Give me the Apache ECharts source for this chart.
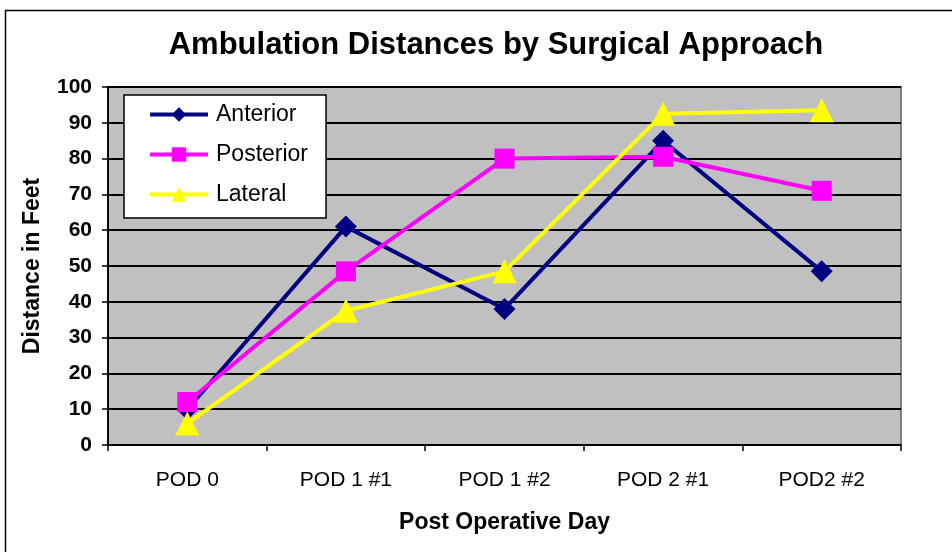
<!DOCTYPE html>
<html><head><meta charset="utf-8">
<script src="https://cdn.jsdelivr.net/npm/echarts@6/dist/echarts.min.js"></script>
<style>html,body{margin:0;padding:0;background:#fff}#c{width:952px;height:552px}</style>
</head><body><div id="c"></div>
<script>
const categories = ['POD 0', 'POD 1 #1', 'POD 1 #2', 'POD 2 #1', 'POD2 #2'];
const anterior = [10, 61, 38, 85, 48.5];
const posterior = [12, 48.5, 80, 80.5, 71];
const lateral = [6, 37.5, 48.5, 92.5, 93.5];
const yTicks = [0, 10, 20, 30, 40, 50, 60, 70, 80, 90, 100];

const FONT = 'Liberation Sans, Arial, sans-serif';
const chart = echarts.init(document.getElementById('c'), null, {renderer: 'canvas'});
const G = {left: 108, top: 87, width: 793, height: 358};
function mkSeries(name, data, color, symbol, size) {
  return {
    name, type: 'line', data, symbol, symbolSize: size,
    lineStyle: {color, width: 4}, itemStyle: {color},
    z: 3
  };
}
chart.setOption({
  animation: false,
  backgroundColor: '#ffffff',
  graphic: [
    {type: 'rect', shape: {x: 5.5, y: 10.5, width: 960, height: 560}, style: {fill: 'none', stroke: '#000', lineWidth: 1.5}, z: -1},
    {type: 'rect', shape: {x: G.left, y: G.top, width: G.width, height: G.height}, style: {fill: '#c0c0c0', stroke: '#808080', lineWidth: 2}, z: -1}
  ],
  title: {
    text: 'Ambulation Distances by Surgical Approach',
    left: 491, top: 25, textAlign: 'center',
    textStyle: {fontFamily: FONT, fontWeight: 'bold', fontSize: 31, color: '#000'}
  },
  legend: {
    left: 124, top: 95, orient: 'vertical',
    padding: [8, 18, 12, 24],
    itemGap: 17, itemWidth: 58, itemHeight: 18,
    backgroundColor: '#fff', borderColor: '#000', borderWidth: 1.5,
    lineStyle: {width: 4},
    textStyle: {fontFamily: FONT, fontSize: 23, color: '#000', padding: [0, 0, 0, 3]},
    data: ['Anterior', 'Posterior', 'Lateral']
  },
  grid: G,
  xAxis: {
    type: 'category', data: categories, boundaryGap: true,
    name: 'Post Operative Day', nameLocation: 'middle', nameGap: 66,
    nameTextStyle: {fontFamily: FONT, fontWeight: 'bold', fontSize: 23, color: '#000'},
    axisLine: {lineStyle: {color: '#000', width: 2}},
    axisTick: {show: true, length: 6, lineStyle: {color: '#000', width: 1.5}},
    axisLabel: {fontFamily: FONT, fontSize: 21, color: '#000', margin: 25},
    splitLine: {show: false}
  },
  yAxis: {
    type: 'value', min: 0, max: 100, interval: 10,
    name: 'Distance in Feet', nameLocation: 'middle', nameGap: 64, nameRotate: 90,
    nameTextStyle: {fontFamily: FONT, fontWeight: 'bold', fontSize: 23, color: '#000'},
    axisLine: {show: true, lineStyle: {color: '#000', width: 2}},
    axisTick: {show: true, length: 6, lineStyle: {color: '#000', width: 1.5}},
    axisLabel: {fontFamily: FONT, fontWeight: 'bold', fontSize: 21, color: '#000', margin: 16,
      formatter: v => yTicks.includes(v) ? String(v) : ''},
    splitLine: {show: true, lineStyle: {color: '#000', width: 2}}
  },
  series: [
    mkSeries('Anterior', anterior, '#000080', 'diamond', 22),
    mkSeries('Posterior', posterior, '#ff00ff', 'rect', 20),
    mkSeries('Lateral', lateral, '#ffff00', 'triangle', 24)
  ]
});
</script></body></html>
